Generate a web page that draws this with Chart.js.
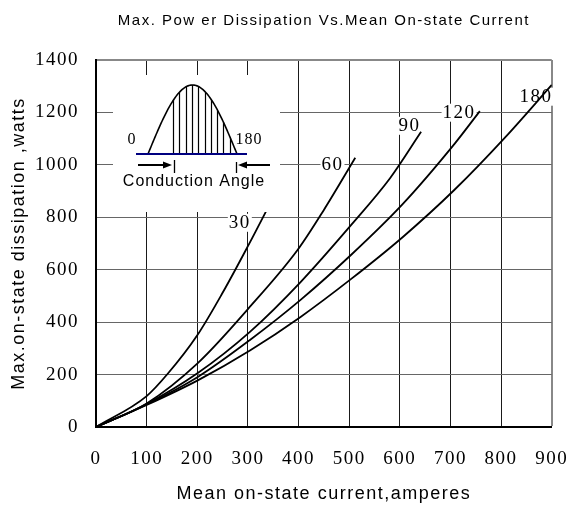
<!DOCTYPE html>
<html>
<head>
<meta charset="utf-8">
<script src="https://cdn.jsdelivr.net/npm/chart.js@4.4.1/dist/chart.umd.min.js"></script>
<style>
  html, body { margin: 0; padding: 0; background: #fff; }
  #wrap { width: 587px; height: 511px; }
</style>
</head>
<body>
<div id="wrap"><canvas id="chart"></canvas></div>
<script>
// conduction angles (degrees), one curve each
const angles = ["30", "60", "90", "120", "180"];

// mean on-state current (A) / max dissipation (W)
const current30 = [0, 100, 142, 200, 250, 300, 335, 360];
const power30 = [0, 118, 204, 350, 512, 690, 820, 915];

const current60 = [0, 100, 201, 300, 398, 450, 512];
const power60 = [0, 90, 244, 450, 675, 828, 1027];

const current90 = [0, 100, 201, 304, 404, 504, 581, 642];
const power90 = [0, 88, 206, 363, 553, 771, 950, 1126];

const current120 = [0, 100, 201, 304, 404, 504, 606, 708, 758];
const power120 = [0, 86, 191, 332, 485, 657, 851, 1080, 1205];

const current180 = [0, 100, 201, 304, 404, 504, 606, 708, 808, 900];
const power180 = [0, 84, 178, 292, 420, 565, 725, 905, 1105, 1305];

const xTicks = [0, 100, 200, 300, 400, 500, 600, 700, 800, 900];
const yTicks = [0, 200, 400, 600, 800, 1000, 1200, 1400];

const series = [
  [current30, power30],
  [current60, power60],
  [current90, power90],
  [current120, power120],
  [current180, power180],
];

// where each angle label sits (in data units)
const labelAt = [[284, 779], [467, 1000], [619, 1149], [717, 1199], [869, 1260]];

const serif = '"Liberation Serif", "Times New Roman", serif';
const sans = '"Liberation Sans", Arial, sans-serif';

// labels, inset sketch and letter spacing
const extras = {
  id: "extras",
  beforeDraw(chart) {
    chart.ctx.letterSpacing = "1.5px";
  },
  beforeDatasetsDraw(chart) {
    const { ctx, scales } = chart;
    ctx.save();
    ctx.font = "19px " + serif;
    ctx.textAlign = "center";
    ctx.textBaseline = "middle";
    angles.forEach((a, i) => {
      const px = scales.x.getPixelForValue(labelAt[i][0]);
      const py = scales.y.getPixelForValue(labelAt[i][1]);
      const w = ctx.measureText(a).width;
      ctx.fillStyle = "#fff";
      ctx.fillRect(px - w / 2 - 1, py - 9, w + 2, 18);
      ctx.fillStyle = "#000";
      ctx.fillText(a, px, py);
    });
    ctx.restore();
  },
  afterDatasetsDraw(chart) {
    const { ctx, chartArea } = chart;
    const L = chartArea.left + 17, T = chartArea.top + 15;
    ctx.save();
    ctx.fillStyle = "#fff";
    ctx.fillRect(L, T, 167, 137);

    // half sine wave
    const x0 = L + 35, x1 = L + 124, base = T + 79, h = 69;
    const yAt = (x) => base - h * Math.sin(Math.PI * (x - x0) / (x1 - x0));
    ctx.strokeStyle = "#000";
    ctx.lineWidth = 1.6;
    ctx.beginPath();
    for (let x = x0; x <= x1; x += 1) {
      if (x === x0) ctx.moveTo(x, yAt(x));
      else ctx.lineTo(x, yAt(x));
    }
    ctx.stroke();

    // hatching over the conduction part
    ctx.lineWidth = 1.2;
    ctx.beginPath();
    for (let k = 0; k < 10; k++) {
      const x = Math.round(L + 60 + k * 6.3) + 0.5;
      ctx.moveTo(x, base);
      ctx.lineTo(x, yAt(x));
    }
    ctx.stroke();

    // baseline
    ctx.strokeStyle = "#000080";
    ctx.lineWidth = 2;
    ctx.beginPath();
    ctx.moveTo(L + 23, base);
    ctx.lineTo(L + 134, base);
    ctx.stroke();

    // arrows and bars
    const ay = T + 90;
    ctx.strokeStyle = "#000";
    ctx.fillStyle = "#000";
    ctx.lineWidth = 2;
    ctx.beginPath();
    ctx.moveTo(L + 25, ay); ctx.lineTo(L + 52, ay);
    ctx.moveTo(L + 157, ay); ctx.lineTo(L + 132, ay);
    ctx.stroke();
    ctx.lineWidth = 1.3;
    ctx.beginPath();
    ctx.moveTo(L + 61.5, ay - 5); ctx.lineTo(L + 61.5, ay + 8);
    ctx.moveTo(L + 123.5, ay - 3); ctx.lineTo(L + 123.5, ay + 8);
    ctx.stroke();
    ctx.beginPath();
    ctx.moveTo(L + 59, ay); ctx.lineTo(L + 50, ay - 3.5); ctx.lineTo(L + 50, ay + 3.5);
    ctx.closePath();
    ctx.moveTo(L + 125, ay); ctx.lineTo(L + 134, ay - 3.5); ctx.lineTo(L + 134, ay + 3.5);
    ctx.closePath();
    ctx.fill();

    // texts
    ctx.textAlign = "center";
    ctx.textBaseline = "middle";
    ctx.letterSpacing = "1px";
    ctx.font = "16px " + serif;
    ctx.fillText("0", L + 19, T + 65);
    ctx.fillText("180", L + 136, T + 65);
    ctx.font = "16px " + sans;
    ctx.fillText("Conduction Angle", L + 81, T + 107);
    ctx.restore();
  },
};

new Chart(document.getElementById("chart"), {
  type: "line",
  data: {
    datasets: series.map(([xs, ys], i) => ({
      label: angles[i],
      data: xs.map((x, j) => ({ x: x, y: ys[j] })),
      borderColor: "#000",
      borderWidth: 1.8,
      pointRadius: 0,
      fill: false,
      cubicInterpolationMode: "monotone",
    })),
  },
  options: {
    responsive: true,
    maintainAspectRatio: false,
    animation: false,
    layout: { padding: { left: 0, right: 23, top: 0, bottom: 0 } },
    plugins: {
      legend: { display: false },
      tooltip: { enabled: false },
      title: {
        display: true,
        fullSize: false,
        text: "Max. Pow er Dissipation Vs.Mean On-state Current",
        color: "#000",
        font: { family: sans, size: 15, weight: "normal", lineHeight: 1.2 },
        padding: { top: 12, bottom: 30 },
      },
    },
    scales: {
      x: {
        type: "linear",
        min: 0,
        max: 900,
        afterBuildTicks: (s) => { s.ticks = xTicks.map((v) => ({ value: v })); },
        afterFit: (s) => { s.height = 84; },
        ticks: { color: "#000", font: { family: serif, size: 19 }, padding: 21, callback: (v) => String(v) },
        grid: {
          drawTicks: false,
          color: (c) => (c.tick && c.tick.value === 900 ? "#888" : "#1a1a1a"),
          lineWidth: (c) => (c.tick && c.tick.value === 900 ? 2 : 1),
        },
        border: { color: "#000", width: 2 },
        title: {
          display: true,
          text: "Mean on-state current,amperes",
          color: "#000",
          font: { family: sans, size: 18, lineHeight: 1.2 },
          padding: { top: 0, bottom: 6 },
        },
      },
      y: {
        type: "linear",
        min: 0,
        max: 1400,
        afterBuildTicks: (s) => { s.ticks = yTicks.map((v) => ({ value: v })); },
        afterFit: (s) => { s.width = 96; },
        ticks: { color: "#000", font: { family: serif, size: 19 }, padding: 17, callback: (v) => String(v) },
        grid: {
          drawTicks: false,
          color: (c) => (c.tick && c.tick.value === 1400 ? "#888" : "#666"),
          lineWidth: (c) => (c.tick && c.tick.value === 1400 ? 2 : 1),
        },
        border: { color: "#000", width: 2 },
        title: {
          display: true,
          text: "Max.on-state dissipation ,watts",
          color: "#000",
          font: { family: sans, size: 18, lineHeight: 1.2 },
          padding: { top: 8, bottom: 0 },
        },
      },
    },
  },
  plugins: [extras],
});
</script>
</body>
</html>
